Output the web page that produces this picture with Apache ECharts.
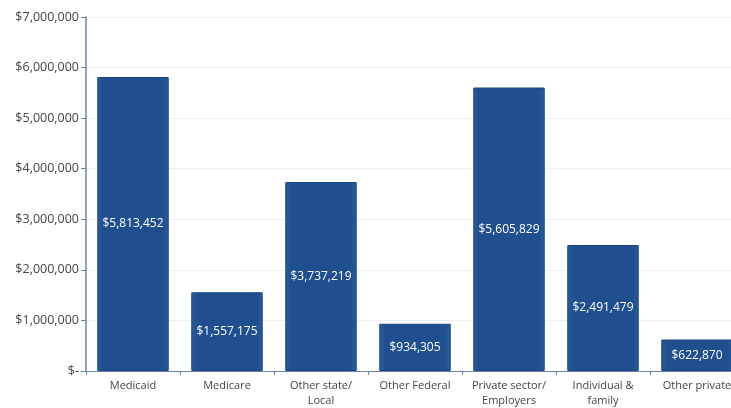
<!DOCTYPE html>
<html><head><meta charset="utf-8">
<script src="https://cdn.jsdelivr.net/npm/echarts@6/dist/echarts.min.js"></script>
<style>html,body{margin:0;padding:0;background:#fff;overflow:hidden}#c{width:744px;height:408px}</style>
</head><body><div id="c"></div>
<script>
const categories = ['Medicaid','Medicare','Other state/\nLocal','Other Federal','Private sector/\nEmployers','Individual &\nfamily','Other private'];
const values = [5813452, 1557175, 3737219, 934305, 5605829, 2491479, 622870];
const yTicks = [0, 1000000, 2000000, 3000000, 4000000, 5000000, 6000000, 7000000];

function money(v){ return v === 0 ? '$-' : '$' + v.toLocaleString('en-US'); }

const chart = echarts.init(document.getElementById('c'));
chart.setOption({
  animation: false,
  grid: {left: 86, top: 17, right: 0, bottom: 37, containLabel: false},
  xAxis: {
    type: 'category', data: categories,
    axisLine: {lineStyle: {color: '#6b84ad', width: 1}},
    axisTick: {show: true, length: 4, lineStyle: {color: '#6b84ad'}},
    axisLabel: {interval: 0, color: '#444', fontFamily: 'Open Sans', fontSize: 11, margin: 7, lineHeight: 15}
  },
  yAxis: {
    type: 'value', min: yTicks[0], max: yTicks[yTicks.length-1], interval: 1000000,
    axisLine: {show: true, lineStyle: {color: '#6b84ad', width: 1.5}},
    axisTick: {show: true, length: 5, lineStyle: {color: '#6b84ad'}},
    splitLine: {show: true, lineStyle: {color: '#eeeeee', width: 1}},
    axisLabel: {color: '#444', fontFamily: 'Open Sans', fontSize: 12.5, margin: 7, formatter: money}
  },
  series: [{
    type: 'bar', data: values, barWidth: '76%',
    itemStyle: {
      color: new echarts.graphic.LinearGradient(0,0,1,0,[
        {offset:0, color:'#2b5d9c'},{offset:0.08, color:'#1f4f8f'},{offset:0.92, color:'#1f4f8f'},{offset:1, color:'#2b5d9c'}
      ]),
      borderColor: '#1a4580', borderWidth: 1
    },
    label: {show: true, position: 'inside', color: '#fff', fontFamily: 'Open Sans', fontSize: 12, formatter: p => money(p.value)}
  }]
});
</script></body></html>
